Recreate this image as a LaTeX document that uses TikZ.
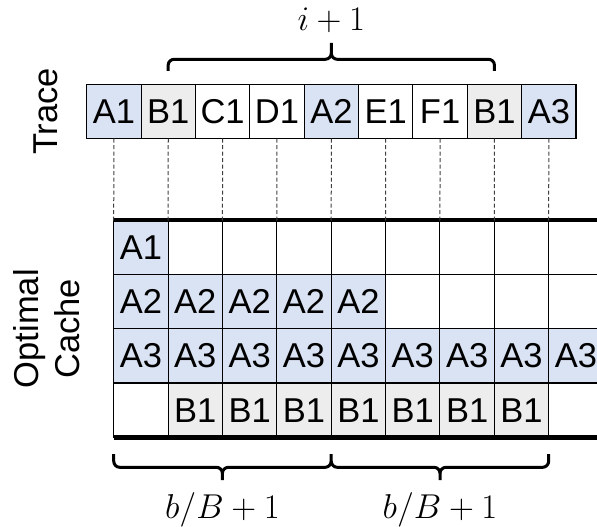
\RequirePackage{fix-cm}
\documentclass[tikz,border=0pt]{standalone}
\usepackage[no-math]{fontspec}
\setmainfont{Liberation Sans}
\definecolor{cblue}{HTML}{DAE3F3}
\definecolor{cgray}{HTML}{EDEDED}
\begin{document}
\begin{tikzpicture}[x=1pt,y=-1pt,
  cell/.style={draw=black, line width=1.1pt, minimum width=54.37pt, minimum height=54.35pt,
    inner sep=0pt, outer sep=0pt, font=\fontsize{34.5}{41}\selectfont, text=black},
  rulebar/.style={line width=4.5pt},
  dashline/.style={draw=black!75, line width=1pt, dash pattern=on 4pt off 2.5pt},
  bracestyle/.style={line width=3pt, line join=round},
  txt/.style={font=\fontsize{34.5}{41}\selectfont, inner sep=0pt, outer sep=0pt},
  mathlab/.style={font=\fontsize{34.5}{41}\selectfont, inner sep=0pt}]
\useasboundingbox (0,0) rectangle (597,527);
\clip (0,0) rectangle (597,527);

% trace row
\foreach \lab/\col [count=\i] in {A1/cblue,B1/cgray,C1/white,D1/white,A2/cblue,E1/white,F1/white,B1/cgray,A3/cblue}
  \node[cell,fill=\col] (t\i) at ({86.7+54.37*(\i-0.5)},111.4) {\lab};

% cache rows
\foreach \lab/\col [count=\j] in {A1/cblue,/white,/white,/white,/white,/white,/white,/white,/white}
  \node[cell,fill=\col] (c1\j) at ({113.7+54.37*(\j-0.5)},247.2) {\lab};
\foreach \lab/\col [count=\j] in {A2/cblue,A2/cblue,A2/cblue,A2/cblue,A2/cblue,/white,/white,/white,/white}
  \node[cell,fill=\col] (c2\j) at ({113.7+54.37*(\j-0.5)},301.5) {\lab};
\foreach \lab/\col [count=\j] in {A3/cblue,A3/cblue,A3/cblue,A3/cblue,A3/cblue,A3/cblue,A3/cblue,A3/cblue,A3/cblue}
  \node[cell,fill=\col] (c3\j) at ({113.7+54.37*(\j-0.5)},355.9) {\lab};
\foreach \lab/\col [count=\j] in {/white,B1/cgray,B1/cgray,B1/cgray,B1/cgray,B1/cgray,B1/cgray,B1/cgray,/white}
  \node[cell,fill=\col] (c4\j) at ({113.7+54.37*(\j-0.5)},410.2) {\lab};

% thick rules
\draw[rulebar] (c11.north west) -- (c19.north east);
\draw[rulebar] (c41.south west) -- (c49.south east);

% dashed guides
\foreach \i in {1,...,9}
  \draw[dashline] (t\i.south) -- ([yshift=-2pt]c1\i.north west);

% top brace
\draw[bracestyle] (168.2,71) -- (168.2,65) to[out=90,in=180] (174.2,59.3) -- (325.3,59.3)
  to[out=0,in=-90] (331.3,53.3) -- (331.3,43);
\draw[bracestyle] (494.4,71) -- (494.4,65) to[out=90,in=0] (488.4,59.3) -- (337.3,59.3)
  to[out=180,in=-90] (331.3,53.3);

% bottom braces
\draw[bracestyle] (113.7,454) -- (113.7,461) to[out=-90,in=180] (119.7,467.3) -- (216.4,467.3)
  to[out=0,in=90] (222.4,473.3) -- (222.4,480);
\draw[bracestyle] (331.2,454) -- (331.2,461) to[out=-90,in=0] (325.2,467.3) -- (228.4,467.3)
  to[out=180,in=90] (222.4,473.3);
\draw[bracestyle] (331.2,461) to[out=-90,in=180] (337.2,467.3) -- (434,467.3)
  to[out=0,in=90] (440,473.3) -- (440,480);
\draw[bracestyle] (548.7,454) -- (548.7,461) to[out=-90,in=0] (542.7,467.3) -- (446,467.3)
  to[out=180,in=90] (440,473.3);

% labels
\node[mathlab, anchor=base] (ilab) at (331.3,30.5) {$i+1$};
\node[mathlab, anchor=base] (blab1) at (222.4,518) {$b/B+1$};
\node[mathlab, anchor=base] (blab2) at (440,518) {$b/B+1$};
\node[txt, rotate=90] (trace) at (45.7,111.4) {Trace};
\node[txt, rotate=90, align=center] (optc) at (46.4,328.7) {Optimal\\Cache};
\end{tikzpicture}
\end{document}
